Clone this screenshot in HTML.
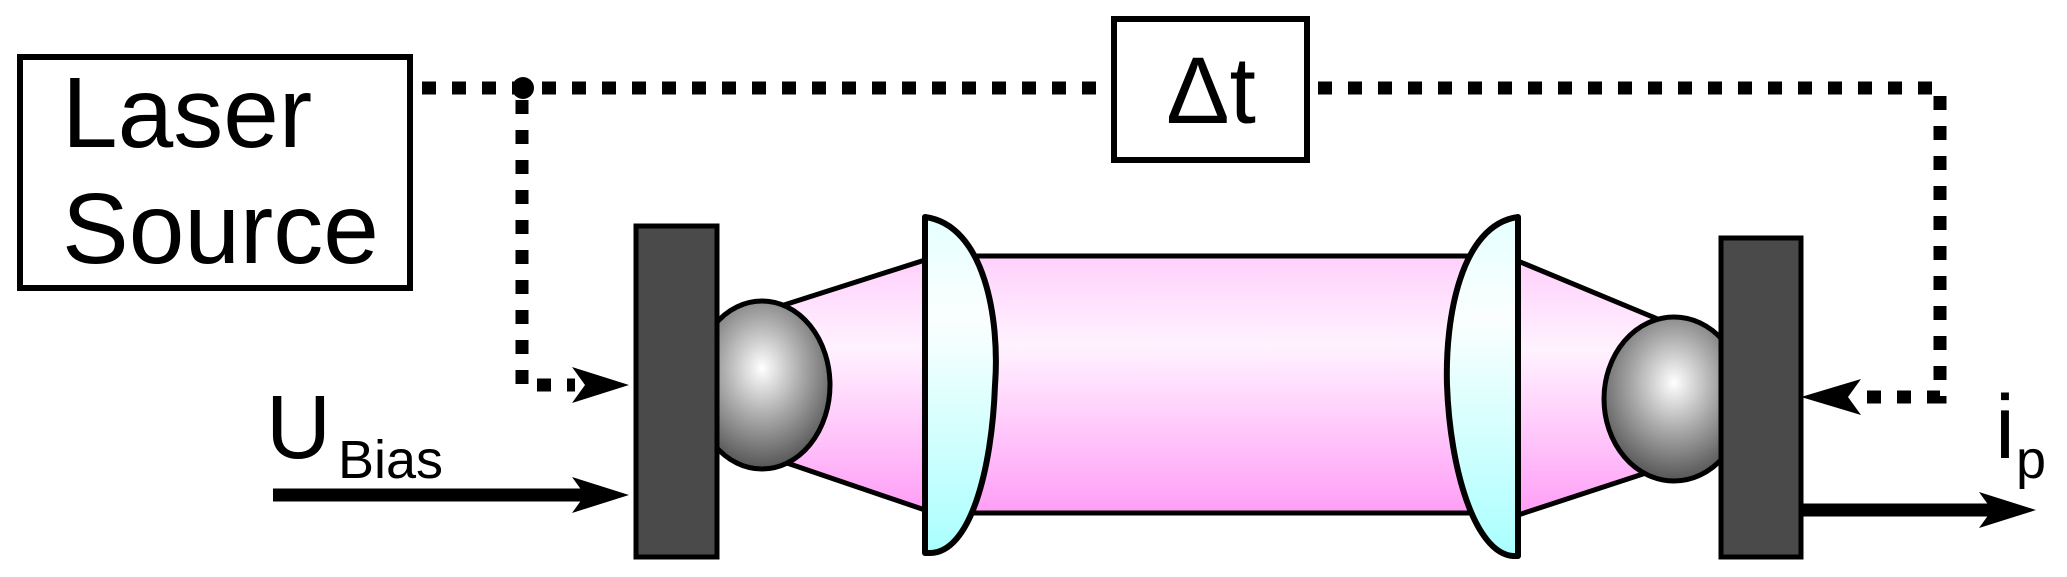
<!DOCTYPE html>
<html><head><meta charset="utf-8"><style>
html,body{margin:0;padding:0;background:#fff;}
svg{display:block;}
text{font-family:"Liberation Sans",sans-serif;fill:#000;}
</style></head><body>
<svg width="2067" height="577" viewBox="0 0 2067 577" xmlns="http://www.w3.org/2000/svg">
<defs>
<linearGradient id="pink" x1="0" y1="0" x2="0" y2="1">
<stop offset="0" stop-color="#ffd0fc"/>
<stop offset="0.35" stop-color="#fff2ff"/>
<stop offset="1" stop-color="#ff9ef6"/>
</linearGradient>
<linearGradient id="lens" x1="0" y1="0" x2="0" y2="1">
<stop offset="0" stop-color="#e6ffff"/>
<stop offset="0.3" stop-color="#fafffe"/>
<stop offset="1" stop-color="#aaffff"/>
</linearGradient>
<radialGradient id="ball" cx="0.5" cy="0.4" r="0.6">
<stop offset="0" stop-color="#ffffff"/>
<stop offset="0.5" stop-color="#a8a8a8"/>
<stop offset="1" stop-color="#555"/>
</radialGradient>
</defs>

<rect x="20" y="57" width="390" height="231" fill="#fff" stroke="#000" stroke-width="6"/>
<text x="62" y="147" font-size="100">Laser</text>
<text x="62" y="263" font-size="100">Source</text>

<rect x="1114" y="19" width="193" height="141" fill="#fff" stroke="#000" stroke-width="6"/>
<text x="1211" y="123" font-size="95" text-anchor="middle">Δt</text>

<g stroke="#000" stroke-width="13" fill="none" stroke-dasharray="14 16">
<path d="M422 88 H1100"/>
<path d="M1318 88 H1940 V397 H1862"/>
<path d="M522 100 V385 H575"/>
</g>
<circle cx="523" cy="88" r="11" fill="#000"/>
<path d="M629 385 L572 367 L585 385 L572 403 Z" fill="#000"/>
<path d="M1801 397 L1861 379 L1848 397 L1861 415 Z" fill="#000"/>

<line x1="273" y1="495" x2="600" y2="495" stroke="#000" stroke-width="13"/>
<path d="M629 495 L572 477 L585 495 L572 513 Z" fill="#000"/>
<text x="266" y="458" font-size="90">U</text>
<text x="338" y="478" font-size="54">Bias</text>

<line x1="1801" y1="510" x2="2000" y2="510" stroke="#000" stroke-width="13"/>
<path d="M2036 510 L1979 492 L1992 510 L1979 528 Z" fill="#000"/>
<text x="1995" y="458" font-size="90">i</text>
<text x="2016" y="478" font-size="54">p</text>

<rect x="960" y="256" width="520" height="257" fill="url(#pink)" stroke="#000" stroke-width="5"/>
<polygon points="784,305 925,260 925,510 784,462" fill="url(#pink)" stroke="#000" stroke-width="5" stroke-linejoin="round"/>
<polygon points="1518,261 1660,320 1646,473 1518,515" fill="url(#pink)" stroke="#000" stroke-width="5" stroke-linejoin="round"/>

<ellipse cx="762" cy="385" rx="68" ry="84" fill="url(#ball)" stroke="#000" stroke-width="5"/>
<ellipse cx="1674" cy="399" rx="70" ry="82" fill="url(#ball)" stroke="#000" stroke-width="5"/>

<path d="M925 217 C985 225 1000 320 995 385 C992 470 970 553 930 553 L925 553 Z" fill="url(#lens)" stroke="#000" stroke-width="6" stroke-linejoin="round"/>
<path d="M1518 217 C1460 225 1445 320 1447 385 C1450 470 1475 553 1513 556 L1518 556 Z" fill="url(#lens)" stroke="#000" stroke-width="6" stroke-linejoin="round"/>

<rect x="636" y="226" width="81" height="331" fill="#4a4a4a" stroke="#000" stroke-width="5"/>
<rect x="1721" y="238" width="80" height="319" fill="#4a4a4a" stroke="#000" stroke-width="5"/>
</svg>
</body></html>
